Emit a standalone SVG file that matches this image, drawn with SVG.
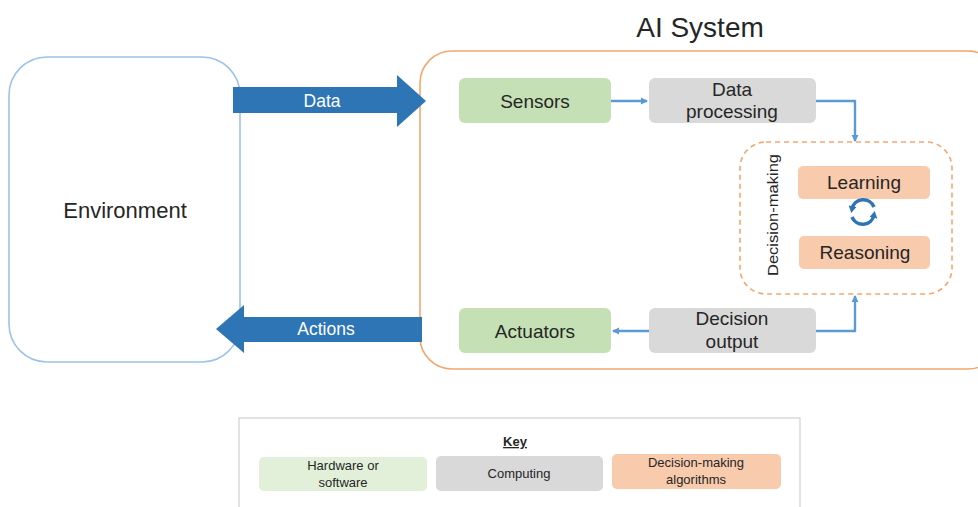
<svg xmlns="http://www.w3.org/2000/svg" width="978" height="507" viewBox="0 0 978 507">
<style>
text{font-family:"Liberation Sans",Arial,sans-serif;fill:#262626;text-anchor:middle}
.lbl{font-size:19px}
.white{fill:#ffffff;font-size:17.5px}
.conn{fill:none;stroke:#5B9BD5;stroke-width:2.4}
.cyc{fill:none;stroke:#2E75B6;stroke-width:3.5}
.green{fill:#C5E0B4}
.gray{fill:#D9D9D9}
.orange{fill:#F8CBAD}
.key{font-size:13px}
</style>
<defs>
<marker id="ah" markerWidth="8" markerHeight="8" refX="6" refY="4" orient="auto" markerUnits="userSpaceOnUse">
<path d="M0,0.5 L7,4 L0,7.5 Z" fill="#5B9BD5"/>
</marker>
<marker id="ch" markerWidth="8" markerHeight="8" refX="3" refY="4" orient="auto" markerUnits="userSpaceOnUse">
<path d="M0,0 L7,4 L0,8 Z" fill="#2E75B6"/>
</marker>
</defs>
<rect width="978" height="507" fill="#ffffff"/>

<g id="environment">
<rect x="9" y="57" width="231" height="305" rx="38" fill="#ffffff" stroke="#9DC3E6" stroke-width="1.6"/>
<text x="125" y="218" style="font-size:22px">Environment</text>
</g>

<g id="ai-system">
<rect x="420" y="51" width="580" height="318" rx="32" fill="#ffffff" stroke="#F4A66F" stroke-width="1.6"/>
<text x="700" y="37" style="font-size:28px">AI System</text>
</g>

<g id="data-arrow">
<path d="M233,87 L397,87 L397,75 L426,101 L397,127 L397,113 L233,113 Z" fill="#2E75B6"/>
<text class="white" x="322" y="107">Data</text>
</g>

<g id="actions-arrow">
<path d="M422,317 L244,317 L244,305 L216,329 L244,353 L244,342 L422,342 Z" fill="#2E75B6"/>
<text class="white" x="326" y="335">Actions</text>
</g>

<g id="sensors">
<rect class="green" x="459" y="78" width="152" height="45" rx="6"/>
<text class="lbl" x="535" y="108">Sensors</text>
</g>

<g id="data-processing">
<rect class="gray" x="649" y="78" width="167" height="45" rx="6"/>
<text class="lbl" x="732" y="96">Data</text>
<text class="lbl" x="732" y="118">processing</text>
</g>

<g id="decision-making">
<rect x="740" y="142" width="212" height="152" rx="26" fill="none" stroke="#F4A66F" stroke-width="1.6" stroke-dasharray="5,4"/>
<text x="773" y="215" transform="rotate(-90 773 215)" style="font-size:15.5px" dy="5" textLength="122" lengthAdjust="spacingAndGlyphs">Decision-making</text>
</g>

<g id="learning">
<rect class="orange" x="798" y="166" width="132" height="33" rx="5"/>
<text class="lbl" x="864" y="189">Learning</text>
</g>

<g id="reasoning">
<rect class="orange" x="799" y="236" width="131" height="33" rx="5"/>
<text class="lbl" x="865" y="259">Reasoning</text>
</g>

<g id="actuators">
<rect class="green" x="459" y="308" width="152" height="45" rx="6"/>
<text class="lbl" x="535" y="338">Actuators</text>
</g>

<g id="decision-output">
<rect class="gray" x="649" y="308" width="167" height="45" rx="6"/>
<text class="lbl" x="732" y="325">Decision</text>
<text class="lbl" x="732" y="348">output</text>
</g>

<g id="connectors">
<path class="conn" d="M611,101 L647,101" marker-end="url(#ah)"/>
<path class="conn" d="M816,101 L855,101 L855,141" marker-end="url(#ah)"/>
<path class="conn" d="M649,331 L613,331" marker-end="url(#ah)"/>
<path class="conn" d="M816,331 L855,331 L855,296" marker-end="url(#ah)"/>
<path class="cyc" d="M874,207 A11.5,11.5 0 0 0 852,209" marker-end="url(#ch)"/>
<path class="cyc" d="M852,217 A11.5,11.5 0 0 0 874,215" marker-end="url(#ch)"/>
</g>

<g id="key">
<rect x="239" y="418" width="561" height="100" fill="#ffffff" stroke="#D0D0D0" stroke-width="1.2"/>
<text x="515" y="446" style="font-size:13px;font-weight:bold;text-decoration:underline">Key</text>
<rect x="259" y="457" width="168" height="34" rx="5" fill="#E2F0D9"/>
<text class="key" x="343" y="470">Hardware or</text>
<text class="key" x="343" y="487">software</text>
<rect class="gray" x="436" y="456" width="167" height="35" rx="5"/>
<text class="key" x="519" y="478">Computing</text>
<rect class="orange" x="612" y="454" width="169" height="35" rx="5"/>
<text class="key" x="696" y="467">Decision-making</text>
<text class="key" x="696" y="484">algorithms</text>
</g>
</svg>
